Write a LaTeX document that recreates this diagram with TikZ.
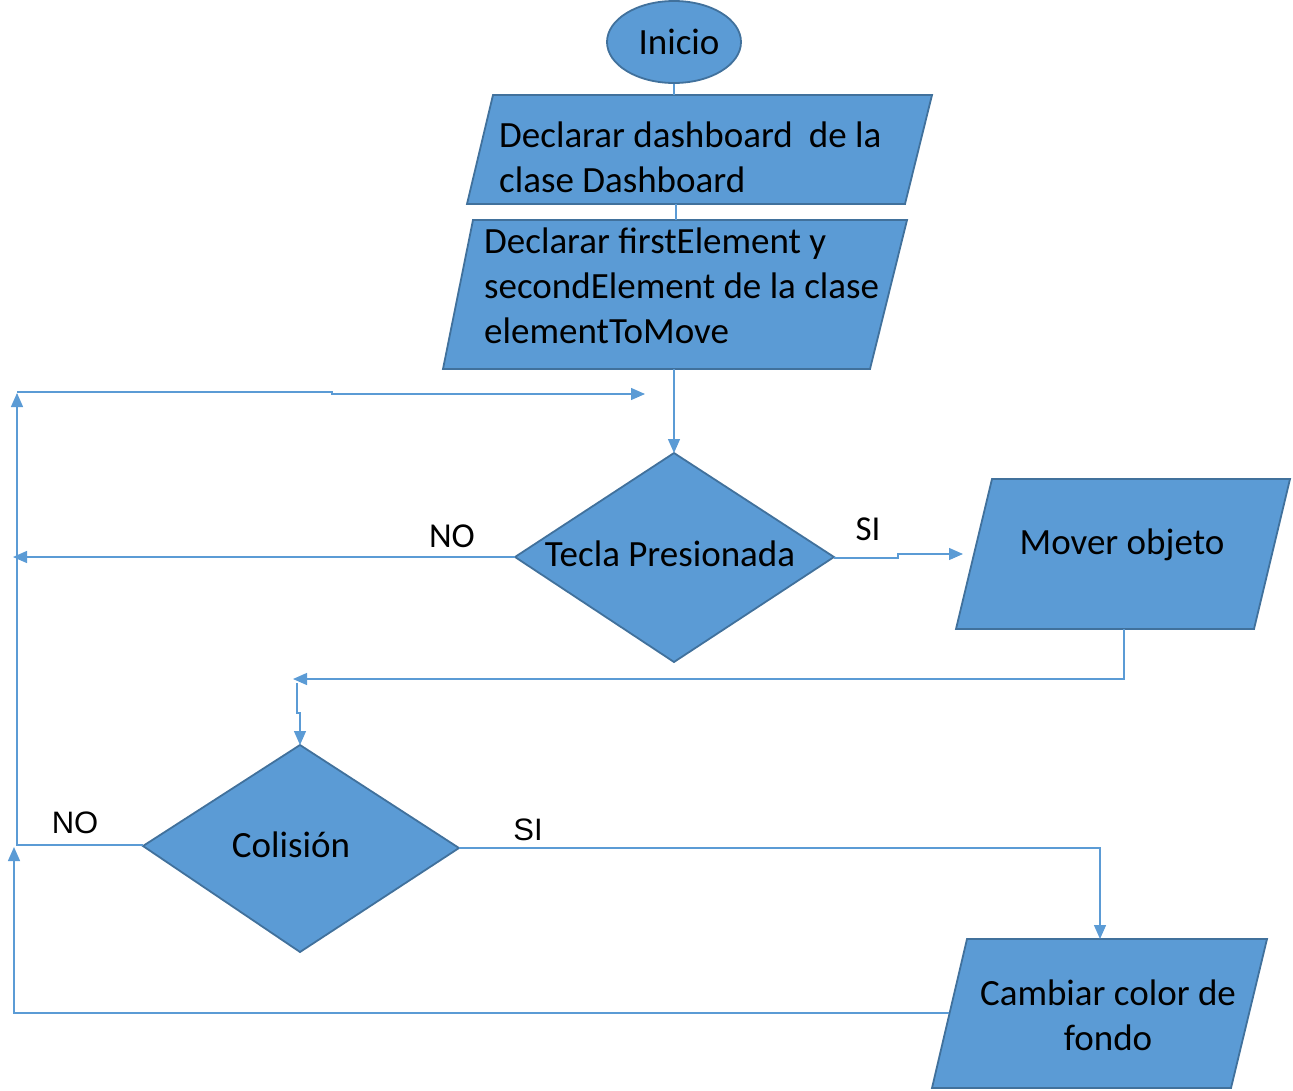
\documentclass[tikz,border=0pt]{standalone}
\usepackage{fontspec}
\setmainfont{Carlito}
\newfontfamily\arialf{Liberation Sans}
\usetikzlibrary{arrows.meta}
\definecolor{boxfill}{HTML}{5B9BD5}
\definecolor{boxline}{HTML}{41719C}
\definecolor{conn}{HTML}{5B9BD5}
\tikzset{
  shapebox/.style={fill=boxfill,draw=boxline,line width=1.8pt},
  conn/.style={draw=conn,line width=1.3pt},
  arr/.style={conn,-{Triangle[length=14pt,width=12pt]}},
  lbl/.style={font=\fontsize{37}{45}\selectfont,text=black,inner sep=0pt},
  albl/.style={font=\arialf\fontsize{31}{36}\selectfont,text=black,inner sep=0pt},
}
\begin{document}
\begin{tikzpicture}[x=1pt,y=-1pt]
\useasboundingbox (0,0) rectangle (1293,1090);
% shapes
\draw[shapebox] (674,42) ellipse [x radius=67, y radius=41];
\node[lbl] (inicio) at (679,42) {Inicio};
\draw[shapebox] (493,95) -- (932,95) -- (905,204) -- (467,204) -- cycle;
\node[lbl,align=left,anchor=west] (p1) at (499,157) {Declarar dashboard\hspace{16pt}de la\\clase Dashboard};
\draw[shapebox] (473,220) -- (907,220) -- (870,369) -- (443,369) -- cycle;
\node[lbl,align=left,anchor=west] (p2) at (484,286) {Declarar firstElement y\\secondElement de la clase\\elementToMove};
\draw[shapebox] (674,453) -- (834,557) -- (674,662) -- (515,557) -- cycle;
\node[lbl] (tecla) at (670,554) {Tecla Presionada};
\draw[shapebox] (992,479) -- (1290,479) -- (1254,629) -- (956,629) -- cycle;
\node[lbl] (mover) at (1122,545) {Mover objeto};
\draw[shapebox] (300,745) -- (459,848) -- (300,952) -- (143,846) -- cycle;
\node[lbl] (colision) at (291,845) {Colisión};
\draw[shapebox] (967,939) -- (1267,939) -- (1231,1088) -- (932,1088) -- cycle;
\node[lbl,align=center] (cambiar) at (1108,1015) {Cambiar color de\\fondo};
% labels
\node[lbl,font=\fontsize{35}{40}\selectfont] (no1) at (452,536) {NO};
\node[lbl,font=\fontsize{35}{40}\selectfont] (si1) at (868,529) {SI};
\node[albl] (no2) at (75,823) {NO};
\node[albl] (si2) at (528,830) {SI};
% connection points
\coordinate (iniB) at (674,84);
\coordinate (p1T) at (674,95);
\coordinate (p1B) at (676,204);
\coordinate (p2T) at (676,220);
\coordinate (p2B) at (674,369);
\coordinate (tecT) at (674,453);
\coordinate (tecL) at (515,557);
\coordinate (tecR) at (834,558);
\coordinate (movL) at (963,554);
\coordinate (movB) at (1124,629);
\coordinate (colT) at (300,745);
\coordinate (colL) at (143,845);
\coordinate (colR) at (459,848);
\coordinate (camT) at (1100,939);
\coordinate (camL) at (949,1013);
\coordinate (noEnd) at (13,557);
\coordinate (loopTop) at (17,393);
\coordinate (loopStart) at (17,392);
\coordinate (loopEnd) at (645,394);
\coordinate (midEnd) at (293,679);
\coordinate (midStart) at (297,683);
\coordinate (loop2End) at (14,847);
% connectors
\draw[conn] (iniB) -- (p1T);
\draw[conn] (p1B) -- (p2T);
\draw[arr] (p2B) -- (tecT);
\draw[arr] (tecL) -- (noEnd);
\draw[arr] (tecR) -- (898,558) -- (898,554) -- (movL);
\draw[arr] (movB) -- (1124,679) -- (midEnd);
\draw[arr] (midStart) -- (297,713) -- (300,713) -- (colT);
\draw[arr] (colL) -- (17,845) -- (loopTop);
\draw[arr] (loopStart) -- (332,392) -- (332,394) -- (loopEnd);
\draw[arr] (colR) -- (1100,848) -- (camT);
\draw[arr] (camL) -- (14,1013) -- (loop2End);
\end{tikzpicture}
\end{document}
